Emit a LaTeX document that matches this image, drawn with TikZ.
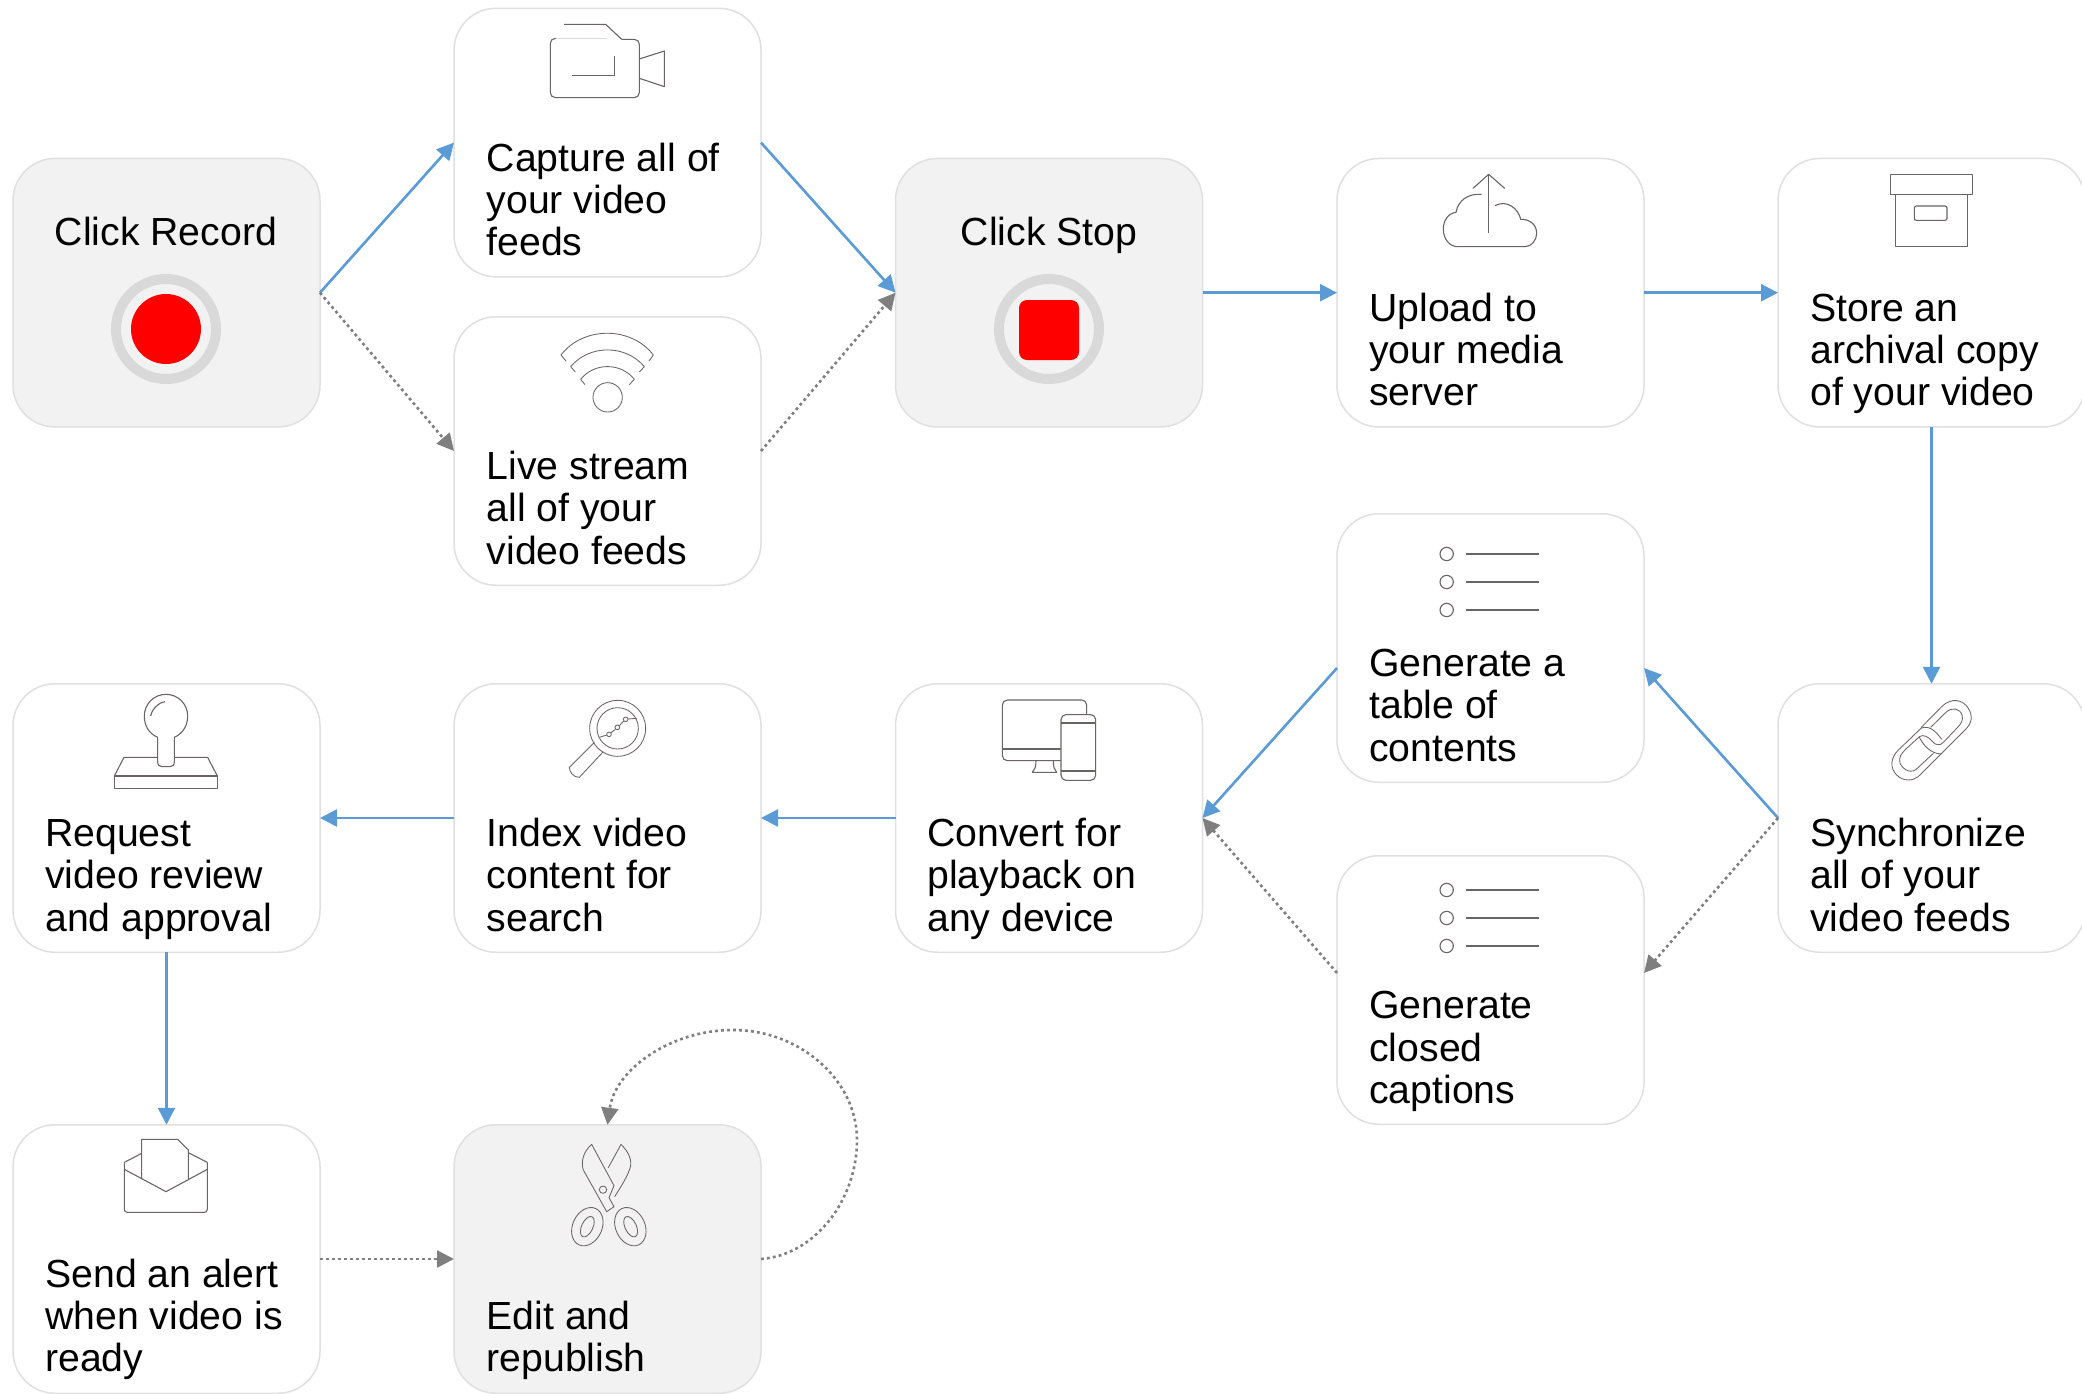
\documentclass[tikz,border=0pt]{standalone}
\usepackage{fontspec}
\setmainfont{Liberation Sans}
\usetikzlibrary{arrows.meta}
\definecolor{flowblue}{HTML}{5B9BD5}
\definecolor{flowgray}{HTML}{7F7F7F}
\definecolor{boxline}{HTML}{E0E0E0}
\definecolor{boxfill}{HTML}{F2F2F2}
\definecolor{ringgray}{HTML}{D9D9D9}
\definecolor{iconc}{HTML}{6A6464}
\tikzset{
  stepbox/.style={rectangle,rounded corners=42pt,draw=boxline,line width=1.5pt,fill=white,
    minimum width=307pt,minimum height=268.5pt,inner sep=0pt,outer sep=0pt},
  greybox/.style={stepbox,fill=boxfill},
  lbl/.style={anchor=base west,align=left,inner sep=0pt,outer sep=0pt,font=\fontsize{39.2}{42.2}\selectfont},
  ctr/.style={anchor=base,inner sep=0pt,outer sep=0pt,font=\fontsize{39.2}{42.2}\selectfont},
  main/.style={draw=flowblue,line width=2.6pt,-{Triangle[length=17pt,width=17pt,fill=flowblue]}},
  alt/.style={draw=flowgray,line width=2.6pt,dash pattern=on 2.8pt off 3.2pt,-{Triangle[length=17pt,width=17pt,fill=flowgray]}},
  icon/.style={draw=iconc,line width=1.1pt,line join=round},
  fine/.style={icon,line width=0.85pt},
}
\begin{document}
\begin{tikzpicture}[x=1pt,y=-1pt]
\clip (0,0) rectangle (2082,1394);
\fill[white] (0,0) rectangle (2082,1394);
% boxes
\node[greybox] (rec) at (166.5,292.7) {};
\node[stepbox] (cap) at (607.5,142.6) {};
\node[stepbox] (live) at (607.5,451) {};
\node[greybox] (stop) at (1049,292.7) {};
\node[stepbox] (up) at (1490.5,292.7) {};
\node[stepbox] (store) at (1931.5,292.7) {};
\node[stepbox] (toc) at (1490.5,648) {};
\node[stepbox] (ccap) at (1490.5,990) {};
\node[stepbox] (sync) at (1931.5,818) {};
\node[stepbox] (conv) at (1049,818) {};
\node[stepbox] (idx) at (607.5,818) {};
\node[stepbox] (req) at (166.5,818) {};
\node[stepbox] (send) at (166.5,1259) {};
\node[greybox] (edit) at (607.5,1259) {};
% texts
\node[ctr] (trec) at (166,245) {Click Record};
\node[ctr] (tstop) at (1049,245) {Click Stop};
\node[lbl] (tcap) at (486.7,255.5) {Capture all of\\your video\\feeds};
\node[lbl] (tlive) at (486.7,564) {Live stream\\all of your\\video feeds};
\node[lbl] (tup) at (1369.3,405.5) {Upload to\\your media\\server};
\node[lbl] (tstore) at (1810.3,405.5) {Store an\\archival copy\\of your video};
\node[lbl] (ttoc) at (1369.3,761) {Generate a\\table of\\contents};
\node[lbl] (tccap) at (1369.3,1103.3) {Generate\\closed\\captions};
\node[lbl] (tsync) at (1810.3,931) {Synchronize\\all of your\\video feeds};
\node[lbl] (tconv) at (927.3,931) {Convert for\\playback on\\any device};
\node[lbl] (tidx) at (486.7,931) {Index video\\content for\\search};
\node[lbl] (treq) at (45.3,931) {Request\\video review\\and approval};
\node[lbl] (tsend) at (45.3,1371.8) {Send an alert\\when video is\\ready};
\node[lbl] (tedit) at (486.7,1371.8) {Edit and\\republish};
% connectors
\draw[main] (rec.east) -- (cap.west);
\draw[alt] (rec.east) -- (live.west);
\draw[main] (cap.east) -- (stop.west);
\draw[alt] (live.east) -- (stop.west);
\draw[main] (stop.east) -- (up.west);
\draw[main] (up.east) -- (store.west);
\draw[main] (store.south) -- (sync.north);
\draw[main] (sync.west) -- ([yshift=-20pt]toc.east);
\draw[alt] (sync.west) -- ([yshift=17pt]ccap.east);
\draw[main] ([yshift=-20pt]toc.west) -- (conv.east);
\draw[alt] ([yshift=17pt]ccap.west) -- (conv.east);
\draw[main] (conv.west) -- (idx.east);
\draw[main] (idx.west) -- (req.east);
\draw[main] (req.south) -- (send.north);
\draw[alt] (send.east) -- (edit.west);
\draw[alt] (edit.east) .. controls (815,1255) and (857,1200) .. (857,1140)
  .. controls (857,1080) and (800,1030) .. (733,1030)
  .. controls (670,1030) and (615,1070) .. (edit.north);
% record / stop symbols
\draw[ringgray,line width=10pt] (166,329) circle[radius=50];
\fill[red] (166,329) circle[radius=35];
\draw[ringgray,line width=10pt] (1049,329) circle[radius=50];
\fill[red,rounded corners=8pt] (1019,300) rectangle (1079,360);
% camera
\begin{scope}[shift={(440,0)},scale=1/3]
\draw[icon,draw=black!15] (500,115) -- (345,115);
\draw[icon,rounded corners=5pt] (345,115) -- (331,115) -- (331,293) -- (598,293) -- (598,118) -- (545,118);
\draw[icon] (372,73) -- (497,73) -- (545,118);
\draw[icon] (397,226) -- (523,226) -- (523,168);
\draw[icon] (598,177) -- (673,153) -- (673,260) -- (598,235);
\end{scope}
% wifi
\begin{scope}[shift={(440,310)},scale=1/3]
\draw[fine] (378,153) -- (363,135) .. controls (430,48) and (573,48) .. (640,135) -- (627,153);
\draw[fine] (406,186) -- (392,170) .. controls (448,103) and (557,103) .. (613,170) -- (598,186);
\draw[fine] (435,224) -- (422,208) .. controls (462,157) and (543,157) .. (583,208) -- (568,224);
\draw[fine] (503,262) circle[radius=44];
\end{scope}
% cloud
\begin{scope}[shift={(1400,150)},scale=1/3]
\draw[icon] (266,248) -- (266,73);
\draw[icon] (219,115) -- (266,73) -- (314,115);
\draw[icon] (245,133) .. controls (205,130) and (175,150) .. (168,187) .. controls (145,190) and (130,210) .. (130,238)
  .. controls (130,268) and (150,290) .. (172,290) -- (375,290) .. controls (395,290) and (410,270) .. (410,250)
  .. controls (410,225) and (390,207) .. (362,208) .. controls (355,175) and (320,148) .. (285,167);
\end{scope}
% archive box
\begin{scope}[shift={(1780,150)},scale=1/3]
\draw[icon] (331,73) rectangle (578,133);
\draw[icon] (347,133) rectangle (562,290);
\draw[icon,rounded corners=2pt] (403,168) rectangle (501,211);
\end{scope}
% lists
\begin{scope}[shift={(1400,520)},scale=1/3]
\foreach \yy in {102,186,270}{
  \draw[icon] (140,\yy) circle[radius=20];
  \draw[icon] (197,\yy) -- (418,\yy);}
\end{scope}
\begin{scope}[shift={(1400,856)},scale=1/3]
\foreach \yy in {102,186,270}{
  \draw[icon] (140,\yy) circle[radius=20];
  \draw[icon] (197,\yy) -- (418,\yy);}
\end{scope}
% chain
\begin{scope}[shift={(1840,680)},scale=1/3]
\draw[fine] (243,143) -- (305,80) .. controls (335,50) and (370,60) .. (385,85) .. controls (400,110) and (395,130) .. (375,150) -- (303,222);
\draw[fine] (272,142) -- (318,97) .. controls (335,80) and (360,85) .. (366,105) .. controls (370,120) and (365,130) .. (350,145) -- (312,185) .. controls (300,200) and (285,195) .. (278,185) .. controls (265,170) and (250,162) .. (238,170) -- (200,205) .. controls (185,220) and (175,230) .. (180,250) .. controls (190,270) and (215,285) .. (235,262) -- (280,220);
\draw[fine] (243,145) -- (175,210) .. controls (150,235) and (150,265) .. (170,285) .. controls (190,305) and (220,305) .. (240,285) -- (303,222);
\draw[fine] (243,145) .. controls (265,135) and (285,150) .. (305,178);
\draw[fine] (238,172) .. controls (250,195) and (270,220) .. (303,222);
\end{scope}
% devices
\begin{scope}[shift={(960,680)},scale=1/3]
\draw[icon,rounded corners=5pt] (303,242) -- (127,242) -- (127,60) -- (380,60) -- (380,104);
\draw[icon] (127,207) -- (303,207);
\draw[icon] (228,242) .. controls (228,262) and (224,268) .. (217,277) -- (290,277) .. controls (283,268) and (280,262) .. (280,242);
\draw[icon,rounded corners=5pt] (303,104) rectangle (407,301);
\draw[icon] (303,129) -- (407,129);
\draw[icon] (303,273) -- (407,273);
\end{scope}
% magnifier
\begin{scope}[shift={(540,680)},scale=1/3]
\draw[fine] (233,145) circle[radius=84];
\draw[fine] (233,145) circle[radius=62];
\draw[fine] (163,187) -- (88,262) .. controls (88,275) and (100,293) .. (118,292) -- (190,215);
\foreach \px/\py in {207/163,232/142,257/118} \draw[fine] (\px,\py) circle[radius=7];
\draw[fine] (178,172) -- (200,165);
\draw[fine] (213,158) -- (226,148);
\draw[fine] (238,137) -- (251,123);
\draw[fine] (264,117) -- (290,115);
\end{scope}
% stamp
\begin{scope}[shift={(90,680)},scale=1/3]
\draw[icon] (203,172) .. controls (175,160) and (163,135) .. (163,108) .. controls (163,72) and (192,43) .. (228,43) .. controls (264,43) and (293,72) .. (293,108) .. controls (293,135) and (280,160) .. (253,172) -- (253,245) .. controls (253,255) and (248,260) .. (240,260) -- (216,260) .. controls (208,260) and (203,255) .. (203,245) -- cycle;
\draw[icon] (182,108) .. controls (187,85) and (205,68) .. (225,65);
\draw[icon] (203,232) -- (102,232) -- (73,288) -- (382,288) -- (353,232) -- (253,232);
\draw[icon] (73,288) rectangle (382,325);
\end{scope}
% envelope
\begin{scope}[shift={(90,1120)},scale=1/3]
\draw[icon] (155,175) -- (155,58) -- (263,58) -- (295,90) -- (295,178);
\draw[icon] (155,100) -- (103,127);
\draw[icon] (352,127) -- (295,98);
\draw[icon,rounded corners=3pt] (103,127) -- (103,277) -- (352,277) -- (352,127);
\draw[icon] (103,148) -- (228,215) -- (352,148);
\end{scope}
% scissors
\begin{scope}[shift={(540,1020)},scale=1/3]
\draw[fine] (155,373) .. controls (130,395) and (122,425) .. (130,450) -- (200,575) -- (222,560) -- (207,533) -- (222,497) -- cycle;
\draw[fine] (205,443) -- (243,373) .. controls (265,395) and (278,420) .. (270,445) .. controls (262,470) and (240,505) .. (224,530);
\draw[fine] (189,509) circle[radius=11];
\draw[fine,rotate around={65:(142,620)}] (142,620) ellipse[x radius=60,y radius=44];
\draw[fine,rotate around={65:(142,620)}] (142,620) ellipse[x radius=33,y radius=17];
\draw[fine,rotate around={-65:(271,620)}] (271,620) ellipse[x radius=60,y radius=44];
\draw[fine,rotate around={-65:(272,620)}] (272,620) ellipse[x radius=33,y radius=17];
\end{scope}
\end{tikzpicture}
\end{document}
